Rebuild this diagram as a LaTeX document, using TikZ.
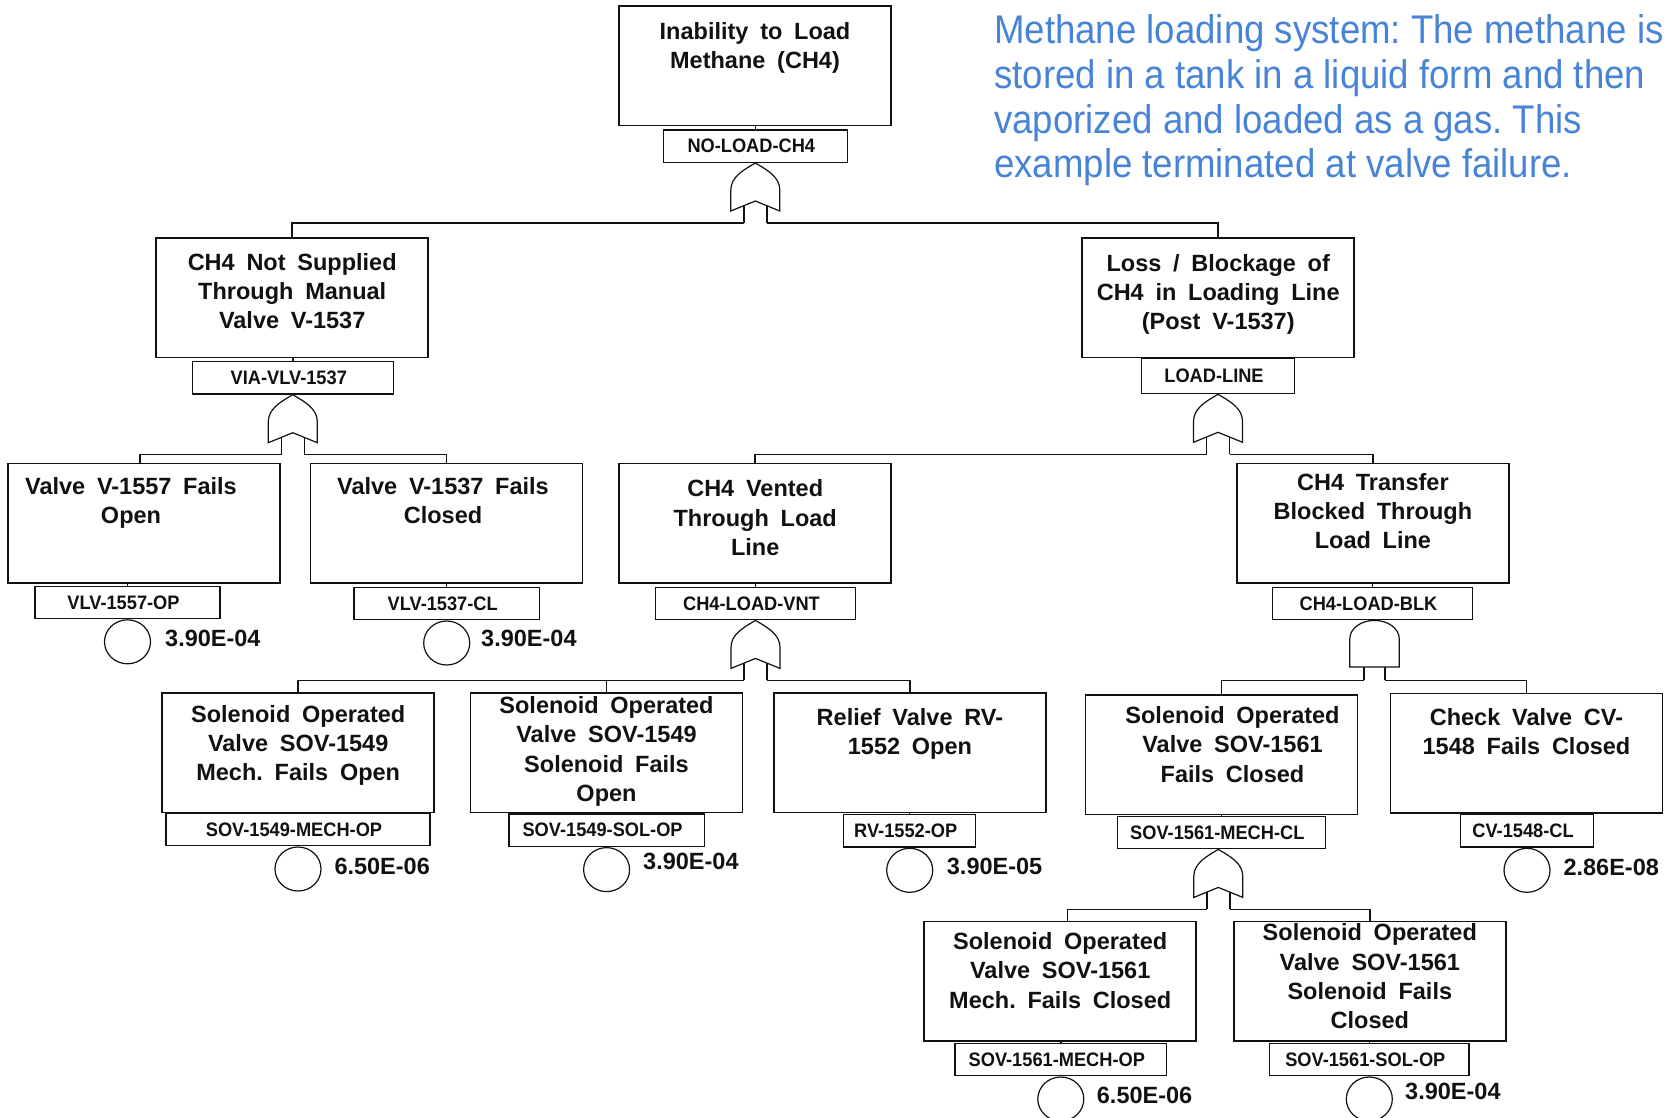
\documentclass[tikz,border=0pt]{standalone}
\usepackage{fontspec}
\setmainfont{Liberation Sans}
\newfontfamily\boxfont{Liberation Sans}[WordSpace=1.8]
\newfontfamily\labfont{Liberation Sans}[FakeStretch=0.935]
\newfontfamily\notefont{Liberation Sans}[FakeStretch=0.915]
\usetikzlibrary{shapes.geometric}
\definecolor{ink}{HTML}{111111}
\definecolor{noteblue}{HTML}{4784D8}
\newcommand\firstline{\rule{0pt}{20pt}}
\newcommand\notestrut{\rule{0pt}{36pt}}
\frenchspacing

\begin{document}
\begin{tikzpicture}[x=1pt,y=-1pt,
  wire/.style={draw=ink, line width=1.5pt},
  evbox/.style={draw=ink, line width=1.5pt, minimum width=272pt, minimum height=119.5pt, inner sep=0pt, anchor=north},
  evtext/.style={font=\boxfont\bfseries\fontsize{23.5}{29.3}\selectfont, align=center, inner sep=0pt, anchor=north, text=ink},
  evlabel/.style={draw=ink, line width=1.3pt, minimum height=32.4pt, inner sep=0pt, anchor=north, text=ink,
    font=\labfont\bfseries\fontsize{19.5}{22}\selectfont, execute at end node={\kern8pt}},
  event/.style={ellipse, draw=ink, line width=1.2pt, minimum width=46pt, minimum height=44pt, inner sep=0pt, anchor=north},
  evval/.style={font=\bfseries\fontsize{23.5}{28}\selectfont, inner sep=0pt, anchor=west, text=ink},
  gate/.style={draw=ink, line width=1.2pt, fill=white, line join=miter},
  note/.style={font=\notefont\fontsize{40}{44.7}\selectfont, text=noteblue, align=left, inner sep=0pt, anchor=north west},
  orgate/.pic={
    \draw[gate] (0,0) .. controls (-12,7) and (-24.5,14) .. (-24.5,27) -- (-24.5,48) -- (0,38) -- (24.5,48)
      -- (24.5,27) .. controls (24.5,14) and (12,7) .. (0,0) -- cycle;
    \draw[wire] (-11.5,42.7) -- (-11.5,60) coordinate (-l);
    \draw[wire] (11.5,42.7) -- (11.5,60) coordinate (-r);
  },
  andgate/.pic={
    \draw[gate] (-24.7,46.6) -- (-24.7,18.3) .. controls (-24.7,8.2) and (-13.6,0) .. (0,0)
      .. controls (13.6,0) and (24.7,8.2) .. (24.7,18.3) -- (24.7,46.6) -- cycle;
    \draw[wire] (-10.3,46.6) -- (-10.3,60) coordinate (-l);
    \draw[wire] (10.3,46.6) -- (10.3,60) coordinate (-r);
  }
]
\useasboundingbox (0,0) rectangle (1669,1117);

% ---------- description ----------
\node[note] (note) at (994,7.5) {\notestrut Methane loading system: The methane is\\
stored in a tank in a liquid form and then\\
vaporized and loaded as a gas. This\\
example terminated at valve failure.};

% ---------- event boxes ----------
\node[evbox] (b0) at (755,5) {};
\node[evbox] (b1) at (292.2,237.3) {};
\node[evbox] (b2) at (1218.2,237.3) {};
\node[evbox] (b3) at (144.2,462.7) {};
\node[evbox] (b4) at (446.7,462.7) {};
\node[evbox] (b5) at (755.2,462.7) {};
\node[evbox] (b6) at (1372.9,462.7) {};
\node[evbox] (b7) at (298.2,692.3) {};
\node[evbox] (b8) at (606.5,692.3) {};
\node[evbox] (b9) at (909.9,692.3) {};
\node[evbox] (b10) at (1221.5,694) {};
\node[evbox] (b11) at (1526.5,692.5) {};
\node[evbox] (b12) at (1060.2,920.7) {};
\node[evbox] (b13) at (1369.8,920.7) {};

% ---------- event descriptions ----------
\node[evtext] (t0) at (755,19.3) {\firstline Inability to Load\\Methane (CH4)};
\node[evtext] (t1) at (292.2,250.1) {\firstline CH4 Not Supplied\\Through Manual\\Valve V-1537};
\node[evtext] (t2) at (1218.2,251.1) {\firstline Loss / Blockage of\\CH4 in Loading Line\\(Post V-1537)};
\node[evtext] (t3) at (131,474.4) {\firstline Valve V-1557 Fails\\Open};
\node[evtext] (t4) at (443,474.4) {\firstline Valve V-1537 Fails\\Closed};
\node[evtext] (t5) at (755.2,476.7) {\firstline CH4 Vented\\Through Load\\Line};
\node[evtext] (t6) at (1372.9,470.1) {\firstline CH4 Transfer\\Blocked Through\\Load Line};
\node[evtext] (t7) at (298.2,702.1) {\firstline Solenoid Operated\\Valve SOV-1549\\Mech. Fails Open};
\node[evtext] (t8) at (606.5,693.4) {\firstline Solenoid Operated\\Valve SOV-1549\\Solenoid Fails\\Open};
\node[evtext] (t9) at (909.9,705.1) {\firstline Relief Valve RV-\\1552 Open};
\node[evtext] (t10) at (1232.5,703.4) {\firstline Solenoid Operated\\Valve SOV-1561\\Fails Closed};
\node[evtext] (t11) at (1526.5,705.1) {\firstline Check Valve CV-\\1548 Fails Closed};
\node[evtext] (t12) at (1060.2,929.4) {\firstline Solenoid Operated\\Valve SOV-1561\\Mech. Fails Closed};
\node[evtext] (t13) at (1369.8,920.7) {\firstline Solenoid Operated\\Valve SOV-1561\\Solenoid Fails\\Closed};

% ---------- identifier tags ----------
\node[evlabel, minimum width=184pt] (l0) at (755.3,129.3) {NO-LOAD-CH4};
\node[evlabel, minimum width=201pt] (l1) at (292.8,361) {VIA-VLV-1537};
\node[evlabel, minimum width=152.6pt, minimum height=35pt] (l2) at (1218,358) {LOAD-LINE};
\node[evlabel, minimum width=185pt] (l3) at (127.5,585.5) {VLV-1557-OP};
\node[evlabel, minimum width=185.3pt] (l4) at (446.7,586.7) {VLV-1537-CL};
\node[evlabel, minimum width=199.6pt] (l5) at (755.5,586.7) {CH4-LOAD-VNT};
\node[evlabel, minimum width=200.5pt] (l6) at (1372.5,586.7) {CH4-LOAD-BLK};
\node[evlabel, minimum width=264pt] (l7) at (298,812.7) {SOV-1549-MECH-OP};
\node[evlabel, minimum width=195.5pt] (l8) at (606.6,813.3) {SOV-1549-SOL-OP};
\node[evlabel, minimum width=132pt] (l9) at (909.7,814) {RV-1552-OP};
\node[evlabel, minimum width=208pt] (l10) at (1221.3,815.7) {SOV-1561-MECH-CL};
\node[evlabel, minimum width=132.6pt] (l11) at (1527,814) {CV-1548-CL};
\node[evlabel, minimum width=211.7pt] (l12) at (1060.8,1042.7) {SOV-1561-MECH-OP};
\node[evlabel, minimum width=199.5pt] (l13) at (1369.3,1042.7) {SOV-1561-SOL-OP};

% box-to-tag links
\foreach \k in {0,1,2,3,4,5,6,7,8,9,10,11,12,13}
  \draw[wire] (l\k.north) -- (l\k.north |- b\k.south);

% ---------- gates ----------
\pic (g0) at (l0.south) {orgate};
\pic (g1) at (l1.south) {orgate};
\pic (g2) at (l2.south) {orgate};
\pic (g5) at (l5.south) {orgate};
\pic (g6) at ([xshift=2pt]l6.south) {andgate};
\pic (g10) at ([xshift=-3pt]l10.south) {orgate};

% ---------- gate inputs ----------
\draw[wire] (g0-l) -| (b1.north);
\draw[wire] (g0-r) -| (b2.north);
\draw[wire] (g1-l) -| ([xshift=-4pt]b3.north);
\draw[wire] (g1-r) -| (b4.north);
\draw[wire] (g2-l) -| (b5.north);
\draw[wire] (g2-r) -| (b6.north);
\draw[wire] (g5-l) -| (b7.north);
\draw[wire] (b8.north) -- (b8.north |- g5-l);
\draw[wire] (g5-r) -| (b9.north);
\draw[wire] (g6-l) -| (b10.north);
\draw[wire] (g6-r) -| (b11.north);
\draw[wire] (g10-l) -| ([xshift=7.5pt]b12.north);
\draw[wire] (g10-r) -| (b13.north);

% ---------- basic events ----------
\node[event] (e3) at (l3.south) {};
\node[event] (e4) at (l4.south) {};
\node[event] (e7) at (l7.south) {};
\node[event] (e8) at (l8.south) {};
\node[event] (e9) at (l9.south) {};
\node[event] (e11) at (l11.south) {};
\node[event] (e12) at (l12.south) {};
\node[event] (e13) at (l13.south) {};

\node[evval] (v3) at (165,638.3) {3.90E-04};
\node[evval] (v4) at (481,638.3) {3.90E-04};
\node[evval] (v7) at (334.3,866) {6.50E-06};
\node[evval] (v8) at (643,861) {3.90E-04};
\node[evval] (v9) at (946.7,866.7) {3.90E-05};
\node[evval] (v11) at (1563.3,867.7) {2.86E-08};
\node[evval] (v12) at (1096.7,1095) {6.50E-06};
\node[evval] (v13) at (1405,1091) {3.90E-04};
\end{tikzpicture}
\end{document}
